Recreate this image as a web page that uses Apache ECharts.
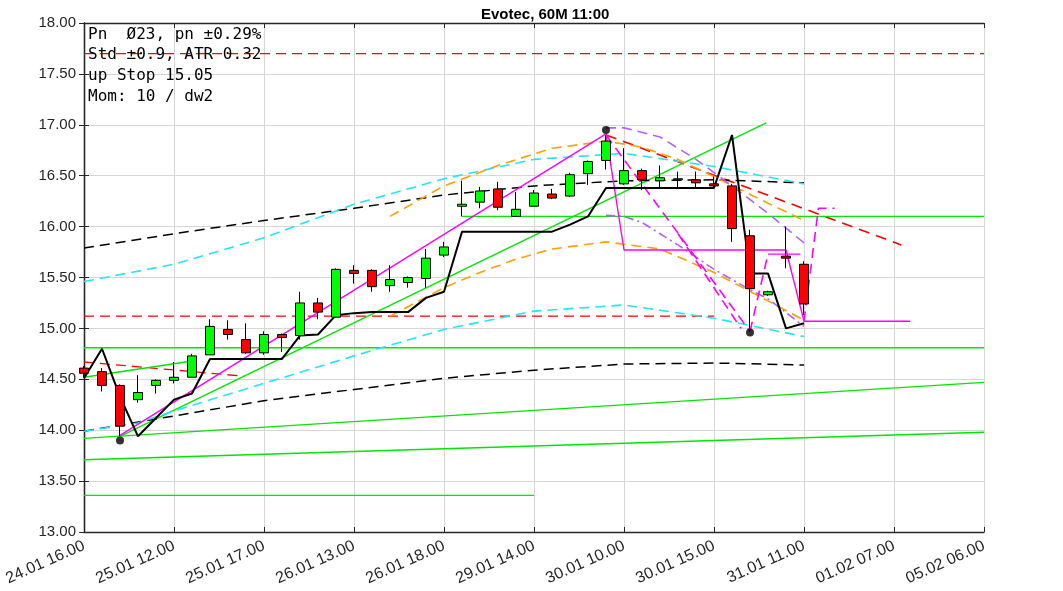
<!DOCTYPE html>
<html><head><meta charset="utf-8">
<script src="https://cdn.jsdelivr.net/npm/echarts@6/dist/echarts.min.js"></script>
<style>html,body{margin:0;padding:0;background:#fff}#c{width:1063px;height:591px}</style>
</head><body><div id="c"></div>
<script>
// ---- data ----
const xLabels = ['24.01 16.00','25.01 12.00','25.01 17.00','26.01 13.00','26.01 18.00','29.01 14.00','30.01 10.00','30.01 15.00','31.01 11.00','01.02 07.00','05.02 06.00'];
const opens  = [14.61,14.575,14.44,14.30,14.44,14.49,14.52,14.74,14.99,14.89,14.76,14.94,14.93,15.25,15.11,15.57,15.57,15.42,15.45,15.49,15.72,16.20,16.24,16.37,16.10,16.20,16.32,16.30,16.52,16.65,16.42,16.55,16.45,16.46,16.46,16.42,16.40,15.91,15.33,15.71,15.63];
const closes = [14.56,14.44,14.04,14.37,14.49,14.52,14.73,15.02,14.94,14.76,14.94,14.91,15.25,15.16,15.58,15.54,15.41,15.48,15.50,15.69,15.80,16.22,16.35,16.19,16.17,16.33,16.28,16.51,16.64,16.84,16.55,16.46,16.48,16.47,16.43,16.40,15.98,15.39,15.36,15.69,15.24];
const lows   = [14.52,14.38,13.94,14.27,14.36,14.46,14.52,14.74,14.89,14.75,14.74,14.77,14.89,15.09,15.11,15.44,15.36,15.36,15.40,15.40,15.70,16.10,16.18,16.16,16.10,16.20,16.27,16.29,16.41,16.56,16.41,16.36,16.38,16.38,16.38,16.39,15.85,14.99,15.32,15.59,15.13];
const highs  = [14.63,14.61,14.45,14.54,14.50,14.67,14.75,15.09,15.08,15.05,14.97,14.95,15.36,15.30,15.59,15.62,15.58,15.62,15.51,15.78,15.85,16.45,16.39,16.44,16.34,16.36,16.37,16.53,16.65,16.90,16.77,16.57,16.60,16.54,16.54,16.49,16.42,15.97,15.37,16.00,15.66];

const stopLine = [14.51,14.80,14.33,13.94,14.12,14.30,14.36,14.70,14.70,14.70,14.70,14.70,14.93,14.94,15.13,15.15,15.16,15.16,15.16,15.30,15.36,15.95,15.95,15.95,15.95,15.95,15.95,16.02,16.10,16.38,16.38,16.38,16.38,16.38,16.38,16.38,16.90,15.54,15.54,15.00,15.05];

const blackDashUpper = [[0,15.79],[5,15.93],[10,16.06],[15,16.18],[20,16.31],[25,16.40],[30,16.45],[35,16.46],[40,16.43]];
const blackDashLower = [[0,13.99],[5,14.14],[10,14.29],[15,14.40],[20,14.51],[25,14.59],[30,14.65],[35,14.66],[40,14.64]];
const cyanUpper = [[0,15.46],[5,15.63],[10,15.89],[15,16.22],[20,16.47],[25,16.66],[30,16.72],[35,16.59],[40,16.42]];
const cyanLower = [[0,13.99],[3,14.07],[5,14.19],[10,14.46],[15,14.73],[20,14.99],[25,15.17],[30,15.23],[35,15.10],[40,14.92]];
const orangeUpper = [[17,16.10],[20,16.40],[23,16.60],[26,16.77],[29,16.84],[31,16.78],[33,16.66],[35,16.49],[38,16.23],[40,16.06]];
const orangeLower = [[17,15.12],[20,15.40],[22,15.55],[24,15.68],[26,15.78],[29,15.85],[32,15.78],[35,15.55],[38,15.27],[40,15.08]];
const purpleUpper = [[29,16.97],[30,16.97],[32,16.88],[34,16.66],[36,16.40],[38,16.13],[40,15.84]];
const purpleLower = [[29,16.11],[30,16.10],[31,16.04],[32,15.93],[33,15.82],[35,15.58],[37,15.38],[38,15.29],[40,15.02]];
const magentaSolid = [[2,13.95],[29,16.91],[30,15.77],[39,15.77],[40,15.07],[45.9,15.07]];
const magentaSeg = [[38,15.73],[39.8,15.73]];
const magentaDash1 = [[29,16.90],[37,14.97]];
const magentaDash2 = [[37,14.97],[38,15.73]];
const magentaDash3 = [[40,15.07],[40.8,16.18],[41.7,16.18]];
const magentaDash4 = [[33,15.93],[36.5,15.00]];
const redH1 = [[0,17.70],[50,17.70]];
const redH2 = [[0,15.12],[35,15.12]];
const redShort = [[0,14.67],[8.9,14.53]];
const redDiag = [[29,16.90],[45.4,15.82]];
const greenH1 = [[21,16.10],[50,16.10]];
const greenH2 = [[0,14.81],[50,14.81]];
const greenH3 = [[0,13.36],[25,13.36]];
const greenShort = [[0,14.52],[6,14.68]];
const greenTrend = [[2,13.94],[37.9,17.02]];
const greenLong1 = [[0,13.92],[50,14.47]];
const greenLong2 = [[0,13.71],[50,13.98]];
const dots = [[2,13.90],[29,16.95],[37,14.96]];
const infoLines = ['Pn  \u00D823, pn \u00B10.29%','Std \u00B10.9, ATR 0.32','up Stop 15.05','Mom: 10 / dw2'];

// ---- build ----
const candleData = opens.map((o,i)=>[i,o,closes[i],lows[i],highs[i]]);
const stopData = stopLine.map((v,i)=>[i,v]);

function ln(data,color,width,type,z){
  return {type:'line',data:data,symbol:'none',silent:true,animation:false,z:z||2,
    lineStyle:{color:color,width:width,type:type||'solid'}};
}
const DASH=[10,6], DASHDOT=[9,4,2,4];
const series = [
  ln(redH1,'#ff0000',1.3,DASH),
  ln(redH2,'#ff0000',1.3,DASH),
  ln(redShort,'#ff0000',1.3,DASH),
  ln(redDiag,'#ff0000',1.6,[11,7]),
  ln(greenH1,'#00e600',1.4),
  ln(greenH2,'#00e600',1.4),
  ln(greenH3,'#00e600',1.4),
  ln(greenShort,'#00e600',1.4),
  ln(greenTrend,'#00e600',1.4),
  ln(greenLong1,'#00e600',1.4),
  ln(greenLong2,'#00e600',1.4),
  ln(blackDashUpper,'#000000',1.5,DASH),
  ln(blackDashLower,'#000000',1.5,DASH),
  ln(cyanUpper,'#22e4ff',1.6,DASH),
  ln(cyanLower,'#22e4ff',1.6,DASH),
  ln(orangeUpper,'#ffa000',1.6,DASH),
  ln(orangeLower,'#ffa000',1.6,DASH),
  ln(purpleUpper,'#b060ff',1.6,DASH),
  ln(purpleLower,'#b060ff',1.6,DASHDOT),
  ln(magentaSolid,'#ff00ff',1.4),
  ln(magentaSeg,'#ff00ff',1.4),
  ln(magentaDash1,'#ff00ff',1.6,DASH),
  ln(magentaDash2,'#ff00ff',1.6,DASH),
  ln(magentaDash3,'#ff00ff',1.6,DASH),
  ln(magentaDash4,'#ff00ff',1.6,DASH),
  ln(stopData,'#000000',2,'solid',3),
  {type:'candlestick',data:candleData,encode:{x:0,y:[1,2,3,4]},barWidth:9,z:5,animation:false,silent:true,
    itemStyle:{color:'#00ff00',color0:'#ff0000',borderColor:'#000',borderColor0:'#000',borderWidth:1}},
  {type:'scatter',data:dots,symbol:'circle',symbolSize:8,z:6,silent:true,animation:false,itemStyle:{color:'#000'}}
];

const chart = echarts.init(document.getElementById('c'),null,{renderer:'canvas'});
const axisLine = {show:true,lineStyle:{color:'#262626',width:1.3}};
chart.setOption({
  animation:false,
  backgroundColor:'#fff',
  title:{text:'Evotec, 60M 11:00',left:476,top:2,textStyle:{fontFamily:'Liberation Sans',fontWeight:'bold',fontSize:15,color:'#000'}},
  grid:{left:84,right:79,top:23,bottom:59},
  xAxis:[
    {type:'value',min:0,max:50,interval:5,position:'bottom',
     axisLine:axisLine,axisTick:{show:true,inside:true,length:5,lineStyle:{color:'#262626'}},
     splitLine:{show:true,lineStyle:{color:'#d6d6d6',width:1}},
     axisLabel:{rotate:24,margin:13,fontFamily:'Liberation Sans',fontSize:16,color:'#262626',
       formatter:function(v){return (v%5===0 && xLabels[v/5]) ? xLabels[v/5] : '';}}},
    {type:'value',min:0,max:50,interval:5,position:'top',
     axisLine:axisLine,axisTick:{show:true,inside:true,length:5,lineStyle:{color:'#262626'}},
     splitLine:{show:false},axisLabel:{show:false}}
  ],
  yAxis:[
    {type:'value',min:13,max:18,interval:0.5,position:'left',
     axisLine:axisLine,axisTick:{show:true,inside:true,length:5,lineStyle:{color:'#262626'}},
     splitLine:{show:true,lineStyle:{color:'#d6d6d6',width:1}},
     axisLabel:{margin:8,fontFamily:'Liberation Sans',fontSize:15,color:'#262626',formatter:function(v){return v.toFixed(2);}}},
    {type:'value',min:13,max:18,interval:0.5,position:'right',
     axisLine:axisLine,axisTick:{show:true,inside:true,length:5,lineStyle:{color:'#262626'}},
     splitLine:{show:false},axisLabel:{show:false}}
  ],
  graphic:[{type:'text',left:88,top:24,z:100,silent:true,
    style:{text:infoLines.join('\n'),font:'16px "DejaVu Sans Mono"',lineHeight:20.7,fill:'#000'}}],
  series:series
});
</script>
</body></html>
